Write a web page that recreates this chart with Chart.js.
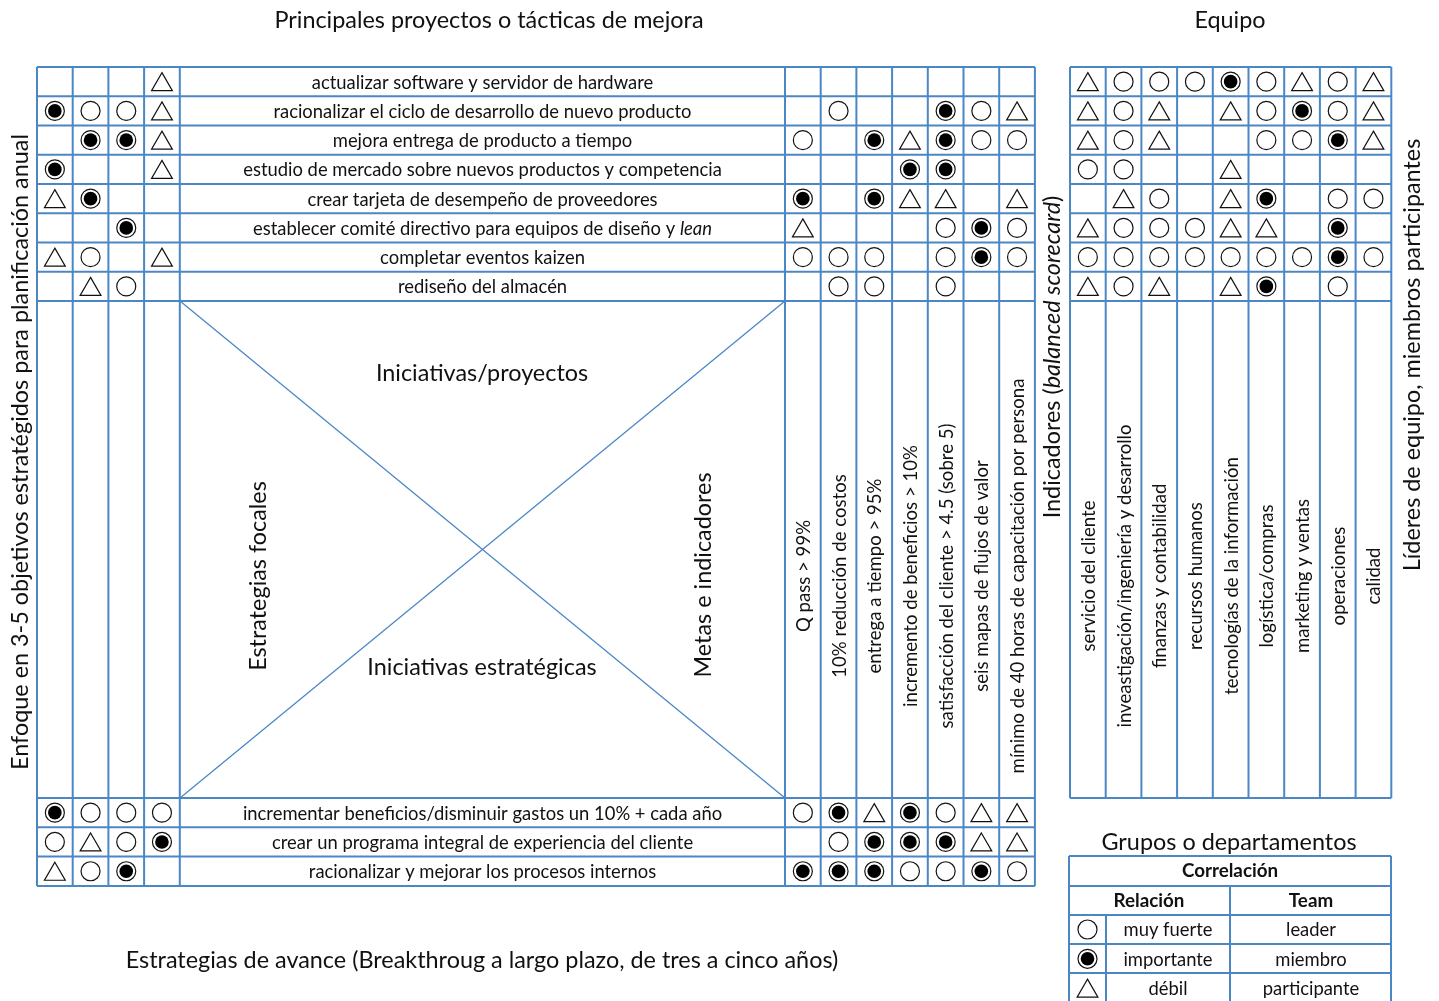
<!DOCTYPE html>
<html>
<head>
<meta charset="utf-8">
<script src="https://cdn.jsdelivr.net/npm/chart.js@4.4.1/dist/chart.umd.min.js"></script>
<style>
  html, body { margin: 0; padding: 0; background: #fff; }
  #wrap { width: 1439px; height: 1001px; }
</style>
</head>
<body>
<div id="wrap"><canvas id="matrix" width="1439" height="1001"></canvas></div>
<script>
// proyectos (filas de arriba)
var projects = [
  'actualizar software y servidor de hardware',
  'racionalizar el ciclo de desarrollo de nuevo producto',
  'mejora entrega de producto a tiempo',
  'estudio de mercado sobre nuevos productos y competencia',
  'crear tarjeta de desempeño de proveedores',
  ['establecer comité directivo para equipos de diseño y ', 'lean'],
  'completar eventos kaizen',
  'rediseño del almacén'
];
// estrategias de avance (filas de abajo)
var strategies = [
  'incrementar beneficios/disminuir gastos un 10% + cada año',
  'crear un programa integral de experiencia del cliente',
  'racionalizar y mejorar los procesos internos'
];
var metrics = [
  'Q pass > 99%',
  '10% reducción de costos',
  'entrega a tiempo > 95%',
  'incremento de beneficios > 10%',
  'satisfacción del cliente > 4.5 (sobre 5)',
  'seis mapas de flujos de valor',
  'mínimo de 40 horas de capacitación por persona'
];
var teams = [
  'servicio del cliente',
  'inveastigación/ingeniería y desarrollo',
  'finanzas y contabilidad',
  'recursos humanos',
  'tecnologías de la información',
  'logística/compras',
  'marketing y ventas',
  'operaciones',
  'calidad'
];

// o = muy fuerte, x = importante, t = débil, . = nada
var projFocus  = ['...t', 'xoot', '.xxt', 'x..t', 'tx..', '..x.', 'to.t', '.to.'];
var projMetric = ['.......', '.o..xot', 'o.xtxoo', '...xx..', 'x.xtt.t', 't...oxo', 'ooo.oxo', '.oo.o..'];
var projTeam   = ['toooxotot', 'tot.toxot', 'tot..ooxt', 'oo..t....', '.to.tx.oo',
                  'tooott.x.', 'oooooooxo', 'tot.tx.o.'];
var stratFocus  = ['xooo', 'otox', 'tox.'];
var stratMetric = ['oxtxott', '.oxxxtt', 'xxxooxo'];

var legendSymbols = ['o', 'x', 't'];
var legendLabels  = ['muy fuerte', 'importante', 'débil'];
var teamRoles     = ['leader', 'miembro', 'participante'];

var BLUE = '#4b87c5';
var INK = '#111';
var FONT = "Lato, 'Liberation Sans', sans-serif";

// rejilla
var stratX = 37, metricX = 785, teamX = 1070, colW = 35.7;
var topY = 67, rowH = 29.25, botY = 798, botH = 29.3;
var textL = 180, textR = 785;

var openPts = [], fullPts = [], triPts = [];

function addCells(rows, x0, y0, dy) {
  rows.forEach(function (row, r) {
    for (var c = 0; c < row.length; c++) {
      addSymbol(row[c], x0 + colW * (c + 0.5), y0 + dy * (r + 0.5));
    }
  });
}
function addSymbol(ch, x, y) {
  if (ch === 'o') openPts.push({x: x, y: y});
  if (ch === 'x') fullPts.push({x: x, y: y});
  if (ch === 't') triPts.push({x: x, y: y + 3});
}

addCells(projFocus, stratX, topY, rowH);
addCells(projMetric, metricX, topY, rowH);
addCells(projTeam, teamX, topY, rowH);
addCells(stratFocus, stratX, botY, botH);
addCells(stratMetric, metricX, botY, botH);
legendSymbols.forEach(function (s, i) { addSymbol(s, 1087.5, 929.5 + i * 29.3); });

function drawRuns(ctx, parts, x, y, size, weight) {
  if (typeof parts === 'string') parts = [parts];
  var fonts = parts.map(function (p, i) {
    return (i % 2 === 1 ? 'italic ' : '') + (weight || 'normal') + ' ' + size + 'px ' + FONT;
  });
  var total = 0;
  parts.forEach(function (p, i) { ctx.font = fonts[i]; total += ctx.measureText(p).width; });
  var cx = x - total / 2;
  ctx.textAlign = 'left';
  ctx.textBaseline = 'middle';
  parts.forEach(function (p, i) {
    ctx.font = fonts[i];
    ctx.fillText(p, cx, y);
    cx += ctx.measureText(p).width;
  });
}
function drawVert(ctx, parts, x, y, size) {
  ctx.save();
  ctx.translate(x, y);
  ctx.rotate(-Math.PI / 2);
  drawRuns(ctx, parts, 0, 0, size);
  ctx.restore();
}
function line(ctx, x1, y1, x2, y2) {
  ctx.beginPath();
  ctx.moveTo(x1, y1);
  ctx.lineTo(x2, y2);
  ctx.stroke();
}

var matrixPlugin = {
  id: 'xmatrix',
  beforeDatasetsDraw: function (chart) {
    var ctx = chart.ctx;
    var sx = chart.scales.x, sy = chart.scales.y;
    var X = function (v) { return sx.getPixelForValue(v); };
    var Y = function (v) { return sy.getPixelForValue(v); };
    var i;
    ctx.save();
    ctx.strokeStyle = BLUE;
    ctx.lineWidth = 2;

    var leftEnd = metricX + colW * 7;
    for (i = 0; i <= 8; i++) line(ctx, X(stratX), Y(topY + rowH * i), X(leftEnd), Y(topY + rowH * i));
    for (i = 0; i <= 3; i++) line(ctx, X(stratX), Y(botY + botH * i), X(leftEnd), Y(botY + botH * i));
    var bottom = botY + botH * 3;
    for (i = 0; i <= 4; i++) line(ctx, X(stratX + colW * i), Y(topY), X(stratX + colW * i), Y(bottom));
    for (i = 0; i <= 7; i++) line(ctx, X(metricX + colW * i), Y(topY), X(metricX + colW * i), Y(bottom));

    // bloque de equipo
    var teamEnd = teamX + colW * 9;
    for (i = 0; i <= 8; i++) line(ctx, X(teamX), Y(topY + rowH * i), X(teamEnd), Y(topY + rowH * i));
    line(ctx, X(teamX), Y(botY), X(teamEnd), Y(botY));
    for (i = 0; i <= 9; i++) line(ctx, X(teamX + colW * i), Y(topY), X(teamX + colW * i), Y(botY));

    // tabla de leyenda
    var lx0 = 1069, lx1 = 1391, ly = [856, 886, 915, 944, 973, 1002];
    ly.forEach(function (v) { line(ctx, X(lx0), Y(v), X(lx1), Y(v)); });
    line(ctx, X(lx0), Y(856), X(lx0), Y(1002));
    line(ctx, X(lx1), Y(856), X(lx1), Y(1002));
    line(ctx, X(1230), Y(886), X(1230), Y(1002));
    line(ctx, X(1106), Y(915), X(1106), Y(1002));

    // la X central
    var xTop = topY + rowH * 8;
    ctx.lineWidth = 1.3;
    line(ctx, X(textL), Y(xTop), X(textR), Y(botY));
    line(ctx, X(textR), Y(xTop), X(textL), Y(botY));

    // textos
    ctx.fillStyle = INK;
    projects.forEach(function (p, r) {
      drawRuns(ctx, p, X((textL + textR) / 2), Y(topY + rowH * (r + 0.5)) + 1, 18.4);
    });
    strategies.forEach(function (p, r) {
      drawRuns(ctx, p, X((textL + textR) / 2), Y(botY + botH * (r + 0.5)) + 1, 18.4);
    });
    metrics.forEach(function (m, c) {
      drawVert(ctx, m, X(metricX + colW * (c + 0.5)) + 1, Y(576), 18.6);
    });
    teams.forEach(function (t, c) {
      drawVert(ctx, t, X(teamX + colW * (c + 0.5)) + 1, Y(576), 18.6);
    });

    var T = 23.4;
    drawRuns(ctx, 'Principales proyectos o tácticas de mejora', X(489), Y(20), T);
    drawRuns(ctx, 'Equipo', X(1230), Y(20), T);
    drawRuns(ctx, 'Iniciativas/proyectos', X(482), Y(373), T);
    drawRuns(ctx, 'Iniciativas estratégicas', X(482), Y(667), T);
    drawRuns(ctx, 'Estrategias de avance (Breakthroug a largo plazo, de tres a cinco años)', X(482), Y(960), T);
    drawRuns(ctx, 'Grupos o departamentos', X(1229), Y(842), T);
    drawVert(ctx, 'Enfoque en 3-5 objetivos estratégidos para planificación anual', X(20), Y(452), T);
    drawVert(ctx, 'Líderes de equipo, miembros participantes', X(1412), Y(355), T);
    drawVert(ctx, ['Indicadores (', 'balanced scorecard', ')'], X(1052), Y(357), T);
    drawVert(ctx, 'Estrategias focales', X(258), Y(576), T);
    drawVert(ctx, 'Metas e indicadores', X(703), Y(575), T);

    drawRuns(ctx, 'Correlación', X(1230), Y(871), 18.8, 'bold');
    drawRuns(ctx, 'Relación', X(1149), Y(900.5), 18.8, 'bold');
    drawRuns(ctx, 'Team', X(1311), Y(900.5), 18.8, 'bold');
    legendLabels.forEach(function (l, i) {
      drawRuns(ctx, l, X(1168), Y(929.5 + i * 29.3) + 1, 18.4);
    });
    teamRoles.forEach(function (l, i) {
      drawRuns(ctx, l, X(1311), Y(929.5 + i * 29.3) + 1, 18.4);
    });
    ctx.restore();
  }
};

new Chart(document.getElementById('matrix'), {
  type: 'scatter',
  data: {
    datasets: [
      { label: 'importante (centro)', data: fullPts.slice(), pointStyle: 'circle', pointRadius: 6.8,
        backgroundColor: '#000', borderColor: '#000', borderWidth: 0 },
      { label: 'importante', data: fullPts, pointStyle: 'circle', pointRadius: 9.5,
        backgroundColor: '#fff', borderColor: INK, borderWidth: 1.2 },
      { label: 'muy fuerte', data: openPts, pointStyle: 'circle', pointRadius: 9.5,
        backgroundColor: '#fff', borderColor: INK, borderWidth: 1.2 },
      { label: 'débil', data: triPts, pointStyle: 'triangle', pointRadius: 12,
        backgroundColor: '#fff', borderColor: INK, borderWidth: 1.2 }
    ]
  },
  options: {
    responsive: false,
    animation: false,
    devicePixelRatio: 1,
    layout: { padding: 0, autoPadding: false },
    events: [],
    elements: { point: { hoverRadius: 0 } },
    plugins: { legend: { display: false }, tooltip: { enabled: false } },
    scales: {
      x: { type: 'linear', min: 0, max: 1439, display: false },
      y: { type: 'linear', min: 0, max: 1001, reverse: true, display: false }
    }
  },
  plugins: [matrixPlugin]
});
</script>
</body>
</html>
